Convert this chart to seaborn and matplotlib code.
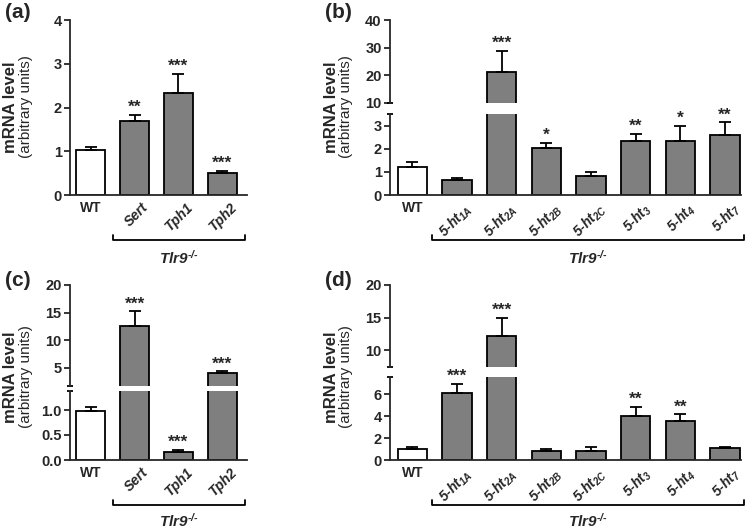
import numpy as np
import pandas as pd
import matplotlib
matplotlib.use("Agg")
import matplotlib.pyplot as plt
import matplotlib.transforms as mtransforms
import seaborn as sns

# ---------------- data ----------------
ab_labels = ["WT", "Sert", "Tph1", "Tph2"]
a_values = [1.04, 1.70, 2.34, 0.51]
a_errors = [0.06, 0.14, 0.43, 0.05]
a_stars = ["", "**", "***", "***"]

bd_labels = ["WT", "5-ht$_{1A}$", "5-ht$_{2A}$", "5-ht$_{2B}$", "5-ht$_{2C}$",
             "5-ht$_{3}$", "5-ht$_{4}$", "5-ht$_{7}$"]
b_values = [1.23, 0.66, 21.3, 2.03, 0.80, 2.35, 2.32, 2.58]
b_errors = [0.19, 0.09, 7.6, 0.22, 0.19, 0.29, 0.68, 0.56]
b_stars = ["", "", "***", "*", "", "**", "*", "**"]

c_values = [0.99, 12.6, 0.17, 3.97]
c_errors = [0.06, 2.6, 0.03, 0.38]
c_stars = ["", "***", "***", "***"]

d_values = [1.00, 6.12, 12.15, 0.85, 0.82, 4.00, 3.52, 1.06]
d_errors = [0.20, 0.80, 2.80, 0.15, 0.33, 0.82, 0.63, 0.12]
d_stars = ["", "***", "***", "", "", "**", "**", ""]

group_label = "Tlr9$^{\u2010/\u2010}$"
ylabel1 = "mRNA level"
ylabel2 = "(arbitrary units)"

# ---------------- style ----------------
sns.set_style("ticks")
plt.rcParams["font.family"] = ["Liberation Sans", "DejaVu Sans"]
plt.rcParams["mathtext.default"] = "regular"

W, H = 749, 531
fig = plt.figure(figsize=(W / 100, H / 100), dpi=100)

GRAY = "#7f7f7f"
LW = 1.3
TICK_FS = 10.5
XLAB_FS = 10


def rect(x0, x1, ytop, ybot):
    return [x0 / W, 1 - ybot / H, (x1 - x0) / W, (ybot - ytop) / H]


def draw_bars(ax, labels, values, errors, stars):
    df = pd.DataFrame({"gene": labels, "value": values})
    pal = {lab: ("white" if lab == "WT" else GRAY) for lab in labels}
    sns.barplot(data=df, x="gene", y="value", hue="gene", palette=pal,
                legend=False, edgecolor="black", linewidth=LW, width=0.66,
                errorbar=None, ax=ax, saturation=1)
    n = len(values)
    x = np.arange(n)
    ax.errorbar(x, values, yerr=[np.zeros(n), errors], fmt="none",
                ecolor="black", elinewidth=LW, capsize=4, capthick=LW,
                zorder=3)
    for xi, v, e, s in zip(x, values, errors, stars):
        if s:
            ax.annotate(s, xy=(xi, v + e), xytext=(0, 0),
                        textcoords="offset points", ha="center", va="bottom",
                        fontsize=12.5, fontweight="bold")
    ax.set_xlabel("")
    ax.set_ylabel("")
    for sp in ["top", "right"]:
        ax.spines[sp].set_visible(False)
    for sp in ["left", "bottom"]:
        ax.spines[sp].set_linewidth(LW)
    ax.tick_params(axis="y", direction="out", length=4, width=LW,
                   labelsize=TICK_FS, pad=2)


def set_yt(ax, ticks, labels):
    ax.set_yticks(ticks)
    ax.set_yticklabels(labels, fontweight="bold", fontsize=TICK_FS)


def style_xlabels(ax, labels):
    ax.tick_params(axis="x", length=0, pad=4)
    ax.set_xticks(np.arange(len(labels)))
    ax.set_xticklabels(labels)
    offset = mtransforms.ScaledTranslation(5 / 72, 0, fig.dpi_scale_trans)
    for i, t in enumerate(ax.get_xticklabels()):
        t.set_fontweight("bold")
        t.set_fontsize(XLAB_FS)
        if labels[i] == "WT":
            t.set_rotation(0)
            t.set_ha("center")
        else:
            t.set_fontstyle("italic")
            t.set_rotation(45)
            t.set_ha("right")
            t.set_va("top")
            t.set_rotation_mode("anchor")
            t.set_transform(t.get_transform() + offset)


def break_caps(ax, where):
    pos = ax.get_position()
    w = 3.0 / (pos.width * W)
    y = 0 if where == "bottom" else 1
    ax.plot([-w, w], [y, y], transform=ax.transAxes, color="black",
            lw=LW, clip_on=False, solid_capstyle="butt")


def bracket(ax, x0, x1, ybr, ytxt):
    tr = mtransforms.blended_transform_factory(ax.transData, fig.transFigure)
    yb = 1 - ybr / H
    yt = yb + 5 / H
    ax.plot([x0, x0, x1, x1], [yt, yb, yb, yt], transform=tr, color="black",
            lw=LW, clip_on=False)
    ax.text((x0 + x1) / 2, 1 - ytxt / H, group_label, transform=tr,
            ha="center", va="center", fontsize=11, fontweight="bold",
            fontstyle="italic")


def ylabels(axis_x, ycenter):
    fig.text((axis_x - 59) / W, 1 - ycenter / H, ylabel1, rotation=90,
             ha="center", va="center", fontsize=12, fontweight="bold")
    fig.text((axis_x - 44) / W, 1 - ycenter / H, ylabel2, rotation=90,
             ha="center", va="center", fontsize=11)


def panel_letter(x, y, s):
    fig.text(x / W, 1 - y / H, s, fontsize=15, fontweight="bold",
             ha="left", va="center")


# ---------------- panel (a) ----------------
ax_a = fig.add_axes(rect(70, 247, 20, 195))
draw_bars(ax_a, ab_labels, a_values, a_errors, a_stars)
ax_a.set_ylim(0, 4)
set_yt(ax_a, [0, 1, 2, 3, 4], ["0", "1", "2", "3", "4"])
ax_a.set_xlim(-0.47, 3.56)
style_xlabels(ax_a, ab_labels)
bracket(ax_a, 0.51, 3.52, 240, 258)
ylabels(70, 107)
panel_letter(5, 13, "(a)")

# ---------------- panel (b) ----------------
ax_bu = fig.add_axes(rect(390, 741, 20, 103))
ax_bl = fig.add_axes(rect(390, 741, 114, 195))
for ax in (ax_bu, ax_bl):
    draw_bars(ax, bd_labels, b_values, b_errors, b_stars)
    ax.set_xlim(-0.5, 7.36)
ax_bu.set_ylim(10, 40)
set_yt(ax_bu, [10, 20, 30, 40], ["10", "20", "30", "40"])
ax_bu.spines["bottom"].set_visible(False)
ax_bu.set_xticks([])
ax_bl.set_ylim(0, 3.5)
set_yt(ax_bl, [0, 1, 2, 3], ["0", "1", "2", "3"])
style_xlabels(ax_bl, bd_labels)
break_caps(ax_bu, "bottom")
break_caps(ax_bl, "top")
bracket(ax_bl, 0.44, 7.43, 240, 258)
ylabels(390, 107)
panel_letter(325, 13, "(b)")

# ---------------- panel (c) ----------------
ax_cu = fig.add_axes(rect(70, 247, 285, 386))
ax_cl = fig.add_axes(rect(70, 247, 391, 460))
for ax in (ax_cu, ax_cl):
    draw_bars(ax, ab_labels, c_values, c_errors, c_stars)
    ax.set_xlim(-0.47, 3.56)
ax_cu.set_ylim(1.7, 20)
set_yt(ax_cu, [5, 10, 15, 20], ["5", "10", "15", "20"])
ax_cu.spines["bottom"].set_visible(False)
ax_cu.set_xticks([])
ax_cl.set_ylim(0, 1.38)
set_yt(ax_cl, [0, 0.5, 1.0], ["0.0", "0.5", "1.0"])
style_xlabels(ax_cl, ab_labels)
break_caps(ax_cu, "bottom")
break_caps(ax_cl, "top")
bracket(ax_cl, 0.51, 3.52, 505, 521)
ylabels(70, 377)
panel_letter(5, 280, "(c)")

# ---------------- panel (d) ----------------
ax_du = fig.add_axes(rect(390, 741, 285, 367))
ax_dl = fig.add_axes(rect(390, 741, 377, 460))
for ax in (ax_du, ax_dl):
    draw_bars(ax, bd_labels, d_values, d_errors, d_stars)
    ax.set_xlim(-0.5, 7.36)
ax_du.set_ylim(7.4, 20)
set_yt(ax_du, [10, 15, 20], ["10", "15", "20"])
ax_du.spines["bottom"].set_visible(False)
ax_du.set_xticks([])
ax_dl.set_ylim(0, 7.55)
set_yt(ax_dl, [0, 2, 4, 6], ["0", "2", "4", "6"])
style_xlabels(ax_dl, bd_labels)
break_caps(ax_du, "bottom")
break_caps(ax_dl, "top")
bracket(ax_dl, 0.44, 7.43, 505, 521)
ylabels(390, 377)
panel_letter(325, 280, "(d)")

fig.savefig("out.png", dpi=100)
